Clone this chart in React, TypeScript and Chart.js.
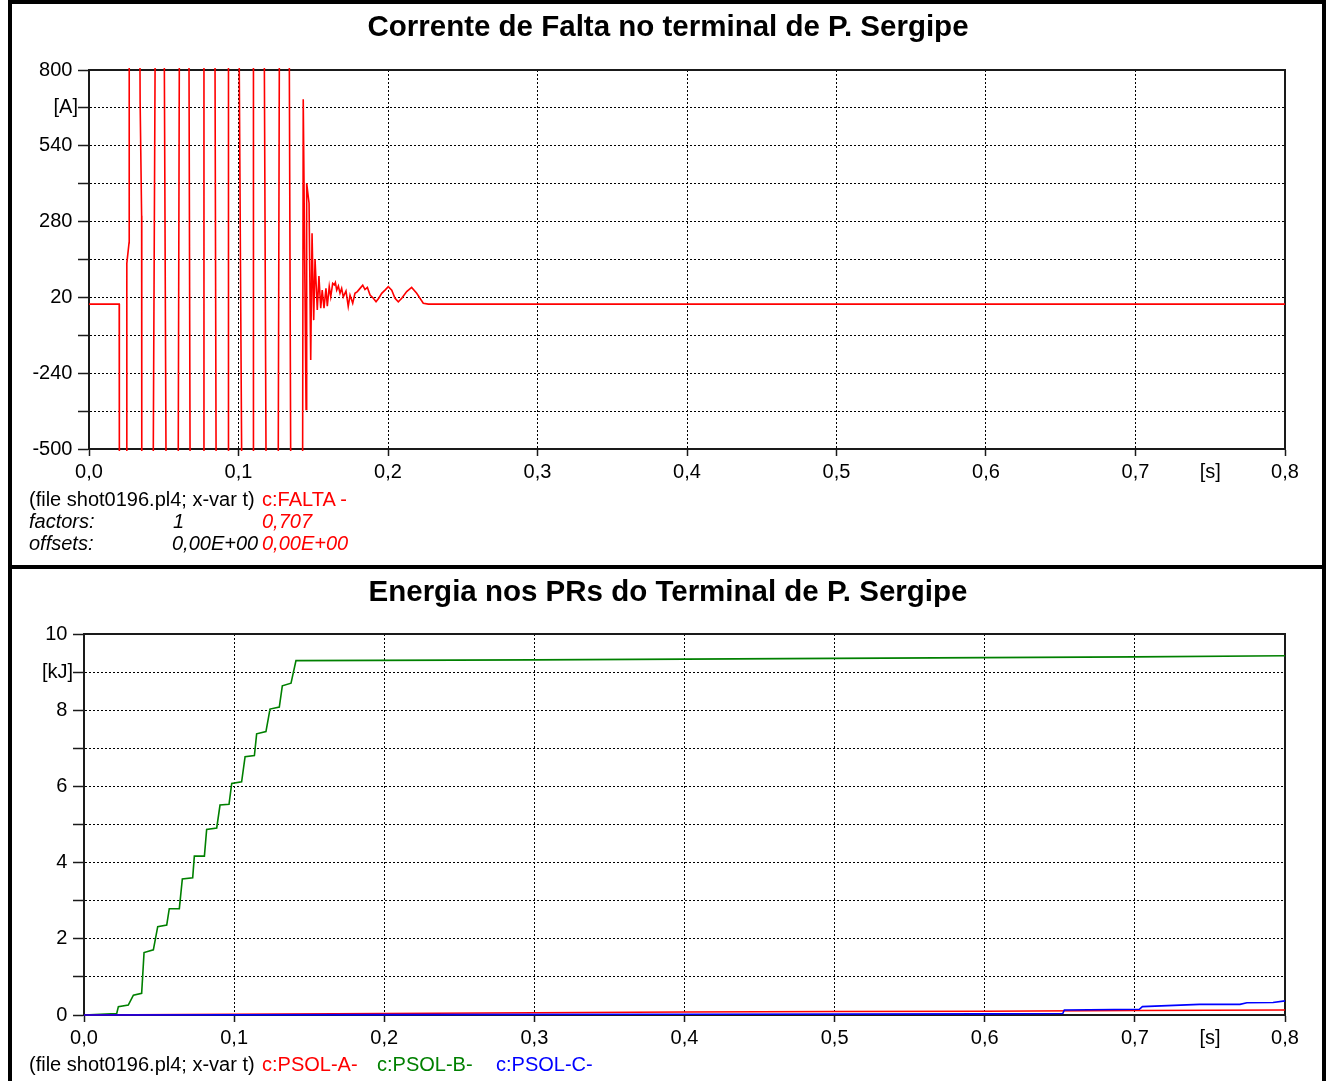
import React, { useEffect, useRef } from "react";
import { Chart, registerables } from "chart.js";

Chart.register(...registerables);

const FONT = '"Liberation Sans", Arial, Helvetica, sans-serif';

// ---------- Top chart: Corrente de Falta (c:FALTA) ----------
const faultTime = [
  0, 0.0202, 0.0203, 0.0228, 0.0252, 0.0253, 0.0268, 0.0269, 0.0305, 0.0341,
  0.0342, 0.0352, 0.0353, 0.0391, 0.043, 0.0442, 0.0473, 0.0504, 0.0515, 0.0556,
  0.0597, 0.0604, 0.0636, 0.0669, 0.0676, 0.072, 0.0765, 0.0769, 0.0806, 0.0843,
  0.085, 0.0891, 0.0931, 0.0933, 0.0969, 0.1005, 0.1021, 0.106, 0.1098, 0.11,
  0.1136, 0.1173, 0.1184, 0.1225, 0.1266, 0.1273, 0.1306, 0.134, 0.1349, 0.1389,
  0.1429, 0.1433, 0.1452, 0.1456, 0.1472, 0.1483, 0.1492, 0.1503, 0.1512, 0.1527,
  0.1538, 0.155, 0.156, 0.1572, 0.1585, 0.1594, 0.1607, 0.1617, 0.163, 0.1641,
  0.1648, 0.1657, 0.1668, 0.1679, 0.169, 0.1701, 0.1719, 0.1734, 0.1746, 0.1764,
  0.1779, 0.1795, 0.1813, 0.1831, 0.1846, 0.1862, 0.188, 0.1902, 0.192, 0.1938,
  0.1958, 0.198, 0.2002, 0.2025, 0.2047, 0.2069, 0.2092, 0.2125, 0.2158, 0.2192,
  0.2214, 0.2236, 0.227, 0.8,
];
const faultCurrent = [
  -3, -3, -510, -2000, -510, 137, 208, 810, 2000, 810,
  690, 300, -510, -2000, -510, 810, 2000, 810, -510, -2000,
  -510, 810, 2000, 810, -510, -2000, -510, 810, 2000, 810,
  -510, -2000, -510, 810, 2000, 810, -510, -2000, -510, 810,
  2000, 810, -510, -2000, -510, 810, 2000, 810, -510, -2000,
  -510, 700, -364, 411, 343, -195, 240, -58, 151, -23,
  93, -17, 45, -17, 51, -10, 57, 22, 68, 63,
  71, 45, 59, 34, 51, 22, 42, -11, 28, 0,
  34, 40, 51, 62, 47, 54, 28, 17, 5, 17,
  34, 45, 57, 45, 17, 5, 17, 40, 54, 34,
  17, 0, -3, -3,
];
const currentTicks = [-500, -370, -240, -110, 20, 150, 280, 410, 540, 670, 800];
const currentTickLabels = ["-500", "", "-240", "", "20", "", "280", "", "540", "[A]", "800"];

// ---------- Bottom chart: Energia nos PRs (c:PSOL-A/B/C) ----------
const energyTimeA = [0, 0.1, 0.2, 0.3, 0.4, 0.5, 0.6, 0.7, 0.8];
const energyA = [0, 0.02, 0.04, 0.06, 0.08, 0.09, 0.1, 0.12, 0.13];

const energyTimeB = [
  0, 0.0218, 0.0229, 0.0295, 0.0329, 0.0384, 0.04, 0.0462, 0.0491, 0.0551,
  0.0568, 0.0635, 0.0655, 0.0724, 0.0735, 0.0802, 0.0817, 0.0884, 0.0906, 0.0966,
  0.0984, 0.105, 0.1073, 0.1135, 0.115, 0.1212, 0.1239, 0.1301, 0.1321, 0.1379,
  0.1412, 0.3, 0.5, 0.7, 0.8,
];
const energyB = [
  0, 0.04, 0.22, 0.26, 0.52, 0.57, 1.64, 1.71, 2.32, 2.36,
  2.79, 2.79, 3.57, 3.6, 4.17, 4.17, 4.87, 4.91, 5.51, 5.53,
  6.08, 6.12, 6.78, 6.81, 7.38, 7.44, 8.03, 8.08, 8.64, 8.71,
  9.3, 9.32, 9.36, 9.4, 9.43,
];

const energyTimeC = [0, 0.2, 0.4, 0.6, 0.652, 0.653, 0.703, 0.705, 0.743, 0.77, 0.7746, 0.792, 0.8];
const energyC = [0, 0.01, 0.02, 0.03, 0.04, 0.13, 0.15, 0.22, 0.28, 0.28, 0.32, 0.33, 0.37];

const energyTicks = [0, 1, 2, 3, 4, 5, 6, 7, 8, 9, 10];
const energyTickLabels = ["0", "", "2", "", "4", "", "6", "", "8", "[kJ]", "10"];

// ---------- Shared x axis ----------
const timeTicks = [0, 0.1, 0.2, 0.3, 0.4, 0.5, 0.6, 0.7, 0.75, 0.8];
const timeTickLabels = ["0,0", "0,1", "0,2", "0,3", "0,4", "0,5", "0,6", "0,7", "[s]", "0,8"];

const toPoints = (xs: number[], ys: number[]) => xs.map((x, i) => ({ x, y: ys[i] }));

const framePlugin = {
  id: "frame",
  beforeDatasetsDraw(chart: any) {
    const { ctx, chartArea: a } = chart;
    ctx.save();
    ctx.strokeStyle = "#1a1a1a";
    ctx.lineWidth = 2;
    ctx.beginPath();
    ctx.moveTo(a.left, a.top);
    ctx.lineTo(a.right, a.top);
    ctx.lineTo(a.right, a.bottom);
    ctx.stroke();
    ctx.restore();
  },
};

type PlotProps = {
  width: number;
  height: number;
  yAxisWidth: number;
  xAxisHeight: number;
  padTop: number;
  padRight: number;
  yMin: number;
  yMax: number;
  yTicks: number[];
  yLabels: string[];
  datasets: any[];
};

function Plot(p: PlotProps) {
  const ref = useRef<HTMLCanvasElement | null>(null);
  useEffect(() => {
    if (!ref.current) return;
    const tickFont = { family: FONT, size: 20 };
    const chart = new Chart(ref.current, {
      type: "line",
      data: { datasets: p.datasets },
      plugins: [framePlugin],
      options: {
        animation: false,
        responsive: false,
        maintainAspectRatio: false,
        layout: { padding: { left: 0, top: p.padTop, right: p.padRight, bottom: 0 } },
        plugins: { legend: { display: false }, tooltip: { enabled: false }, title: { display: false } },
        elements: { point: { radius: 0 }, line: { tension: 0 } },
        scales: {
          x: {
            type: "linear",
            min: 0,
            max: 0.8,
            afterBuildTicks: (s: any) => {
              s.ticks = timeTicks.map((v) => ({ value: v }));
            },
            afterFit: (s: any) => {
              s.height = p.xAxisHeight;
            },
            ticks: {
              autoSkip: false,
              maxRotation: 0,
              minRotation: 0,
              padding: 4,
              color: "#000",
              font: tickFont,
              callback: (_v: any, i: number) => timeTickLabels[i],
            },
            grid: {
              color: (c: any) => {
                const v = c.tick ? c.tick.value : 0;
                return v > 0 && v < 0.8 && v !== 0.75 ? "#000" : "rgba(0,0,0,0)";
              },
              lineWidth: 1,
              tickLength: 7,
              tickWidth: 1.5,
              tickColor: (c: any) => (c.tick && c.tick.value === 0.75 ? "rgba(0,0,0,0)" : "#1a1a1a"),
              tickBorderDash: [],
            },
            border: { display: true, color: "#1a1a1a", width: 2, dash: [2, 2] },
          },
          y: {
            type: "linear",
            min: p.yMin,
            max: p.yMax,
            afterBuildTicks: (s: any) => {
              s.ticks = p.yTicks.map((v) => ({ value: v }));
            },
            afterFit: (s: any) => {
              s.width = p.yAxisWidth;
            },
            ticks: {
              autoSkip: false,
              padding: 0,
              color: "#000",
              font: tickFont,
              callback: (_v: any, i: number) => {
                const l = p.yLabels[i];
                return l && !l.startsWith("[") ? l + " " : l;
              },
            },
            grid: {
              color: (c: any) => {
                const v = c.tick ? c.tick.value : p.yMin;
                return v > p.yMin && v < p.yMax ? "#000" : "rgba(0,0,0,0)";
              },
              lineWidth: 1,
              tickLength: 11,
              tickWidth: 1.5,
              tickColor: "#1a1a1a",
              tickBorderDash: [],
            },
            border: { display: true, color: "#1a1a1a", width: 2, dash: [2, 2] },
          },
        },
      } as any,
    });
    return () => chart.destroy();
  }, []);
  return (
    <canvas
      ref={ref}
      width={p.width}
      height={p.height}
      style={{ position: "absolute", left: 0, top: 0, width: p.width, height: p.height }}
    />
  );
}

function Txt(props: {
  x?: number;
  base: number;
  size?: number;
  color?: string;
  italic?: boolean;
  bold?: boolean;
  center?: boolean;
  children: React.ReactNode;
}) {
  const size = props.size ?? 20;
  const lh = Math.round(size * 1.2);
  const top = props.base - ((lh - 1.117 * size) / 2 + 0.905 * size);
  const style: React.CSSProperties = {
    position: "absolute",
    top,
    fontFamily: FONT,
    fontSize: size,
    lineHeight: `${lh}px`,
    whiteSpace: "pre",
    color: props.color ?? "#000",
    fontStyle: props.italic ? "italic" : "normal",
    fontWeight: props.bold ? "bold" : "normal",
  };
  if (props.center) {
    style.left = 8;
    style.width = 1320;
    style.textAlign = "center";
  } else {
    style.left = props.x;
  }
  return <div style={style}>{props.children}</div>;
}

const panelStyle = (top: number, height: number): React.CSSProperties => ({
  position: "absolute",
  left: 8,
  top,
  width: 1318,
  height,
  border: "4px solid #000",
  boxSizing: "border-box",
});

export default function App() {
  const faultSets = [
    {
      label: "c:FALTA -",
      data: toPoints(faultTime, faultCurrent),
      borderColor: "#ff0000",
      borderWidth: 1.6,
      pointRadius: 0,
      fill: false,
      clip: 2,
    },
  ];
  const energySets = [
    {
      label: "c:PSOL-C-",
      data: toPoints(energyTimeC, energyC),
      borderColor: "#0000ff",
      borderWidth: 1.6,
      pointRadius: 0,
      fill: false,
      clip: 3,
    },
    {
      label: "c:PSOL-A-",
      data: toPoints(energyTimeA, energyA),
      borderColor: "#ff0000",
      borderWidth: 1.6,
      pointRadius: 0,
      fill: false,
      clip: 3,
    },
    {
      label: "c:PSOL-B-",
      data: toPoints(energyTimeB, energyB),
      borderColor: "#008000",
      borderWidth: 1.6,
      pointRadius: 0,
      fill: false,
      clip: 3,
    },
  ];

  return (
    <div
      style={{
        position: "absolute",
        left: 0,
        top: 0,
        width: 1329,
        height: 1081,
        overflow: "hidden",
        background: "#fff",
      }}
    >
      <div style={panelStyle(0, 569)}>
        <Plot
          width={1310}
          height={561}
          yAxisWidth={77}
          xAxisHeight={116}
          padTop={66}
          padRight={37}
          yMin={-500}
          yMax={800}
          yTicks={currentTicks}
          yLabels={currentTickLabels}
          datasets={faultSets}
        />
      </div>
      <div style={panelStyle(565, 530)}>
        <Plot
          width={1310}
          height={512}
          yAxisWidth={72}
          xAxisHeight={66}
          padTop={65}
          padRight={37}
          yMin={0}
          yMax={10}
          yTicks={energyTicks}
          yLabels={energyTickLabels}
          datasets={energySets}
        />
      </div>

      <Txt center base={36} size={29.5} bold>
        Corrente de Falta no terminal de P. Sergipe
      </Txt>
      <Txt x={29} base={506}>(file shot0196.pl4; x-var t)</Txt>
      <Txt x={262} base={506} color="#ff0000">c:FALTA -</Txt>
      <Txt x={29} base={528} italic>factors:</Txt>
      <Txt x={173} base={528} italic>1</Txt>
      <Txt x={262} base={528} italic color="#ff0000">0,707</Txt>
      <Txt x={29} base={549.5} italic>offsets:</Txt>
      <Txt x={172} base={549.5} italic>0,00E+00</Txt>
      <Txt x={262} base={549.5} italic color="#ff0000">0,00E+00</Txt>

      <Txt center base={601} size={29.5} bold>
        Energia nos PRs do Terminal de P. Sergipe
      </Txt>
      <Txt x={29} base={1071}>(file shot0196.pl4; x-var t)</Txt>
      <Txt x={262} base={1071} color="#ff0000">c:PSOL-A-</Txt>
      <Txt x={377} base={1071} color="#008000">c:PSOL-B-</Txt>
      <Txt x={496} base={1071} color="#0000ff">c:PSOL-C-</Txt>
    </div>
  );
}
